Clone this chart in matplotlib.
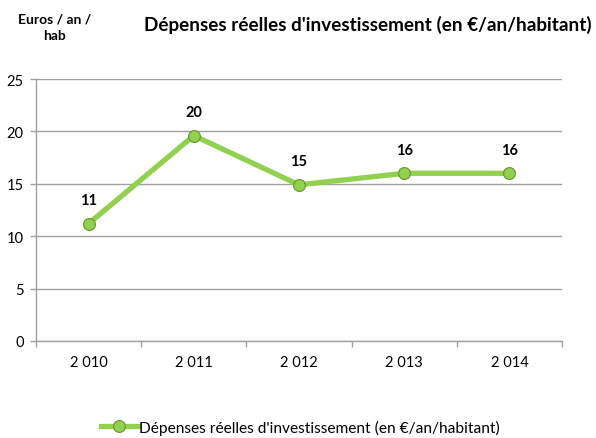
import matplotlib
matplotlib.use("Agg")
import matplotlib.pyplot as plt
from matplotlib.ticker import FixedLocator, NullFormatter

plt.rcParams['font.family'] = ['Lato', 'DejaVu Sans']

categories = ["2 010", "2 011", "2 012", "2 013", "2 014"]
values = [11.2, 19.6, 14.9, 16.0, 16.0]
labels = ["11", "20", "15", "16", "16"]
series_name = "Dépenses réelles d'investissement (en €/an/habitant)"
yticks = [0, 5, 10, 15, 20, 25]

fig = plt.figure(figsize=(5.96, 4.39), dpi=100)
ax = fig.add_axes([36/596, 1 - 342/439, (562-36)/596, (342-80)/439])

x = list(range(len(categories)))
line, = ax.plot(x, values, color="#92D050", linewidth=3.8, marker="o",
                markersize=8.5, markerfacecolor="#92D050",
                markeredgecolor="#6E9A32", markeredgewidth=0.9,
                solid_joinstyle="round", zorder=3, label=series_name)

for xi, v, lab in zip(x, values, labels):
    ax.annotate(lab, (xi, v), xytext=(0, 12), textcoords="offset points",
                ha="center", va="bottom", fontsize=10.5, fontweight="bold",
                color="#000000")

ax.set_xlim(-0.5, len(categories) - 0.5)
ax.set_ylim(0, 25)
ax.set_yticks(yticks)
ax.set_xticks(x)
ax.set_xticklabels(categories)
ax.xaxis.set_minor_locator(FixedLocator([i - 0.5 for i in range(len(categories) + 1)]))
ax.xaxis.set_minor_formatter(NullFormatter())
ax.tick_params(axis="x", which="major", length=0, pad=10, labelsize=10.5, labelcolor="#000000")
ax.tick_params(axis="x", which="minor", length=4, color="#A0A0A0", width=1)
ax.tick_params(axis="y", length=4, color="#A0A0A0", width=1, labelsize=10.5, pad=5, labelcolor="#000000")

ax.grid(axis="y", color="#A0A0A0", linewidth=1)
ax.set_axisbelow(True)
for s in ["top", "right"]:
    ax.spines[s].set_visible(False)
for s in ["left", "bottom"]:
    ax.spines[s].set_color("#A0A0A0")
    ax.spines[s].set_linewidth(1)

fig.text(55/596, 1 - 28/439, "Euros / an /\nhab", ha="center", va="center",
         fontsize=10, fontweight="bold", linespacing=1.5)
fig.text(368/596, 1 - 25/439, series_name, ha="center", va="center",
         fontsize=13.6, fontweight="bold")

fig.legend(handles=[line], loc="center", bbox_to_anchor=(300/596, 1 - 428/439),
           frameon=False, fontsize=11.2, handlelength=2.4, handletextpad=0.05,
           borderaxespad=0, borderpad=0)

fig.savefig("out.png", dpi=100)
